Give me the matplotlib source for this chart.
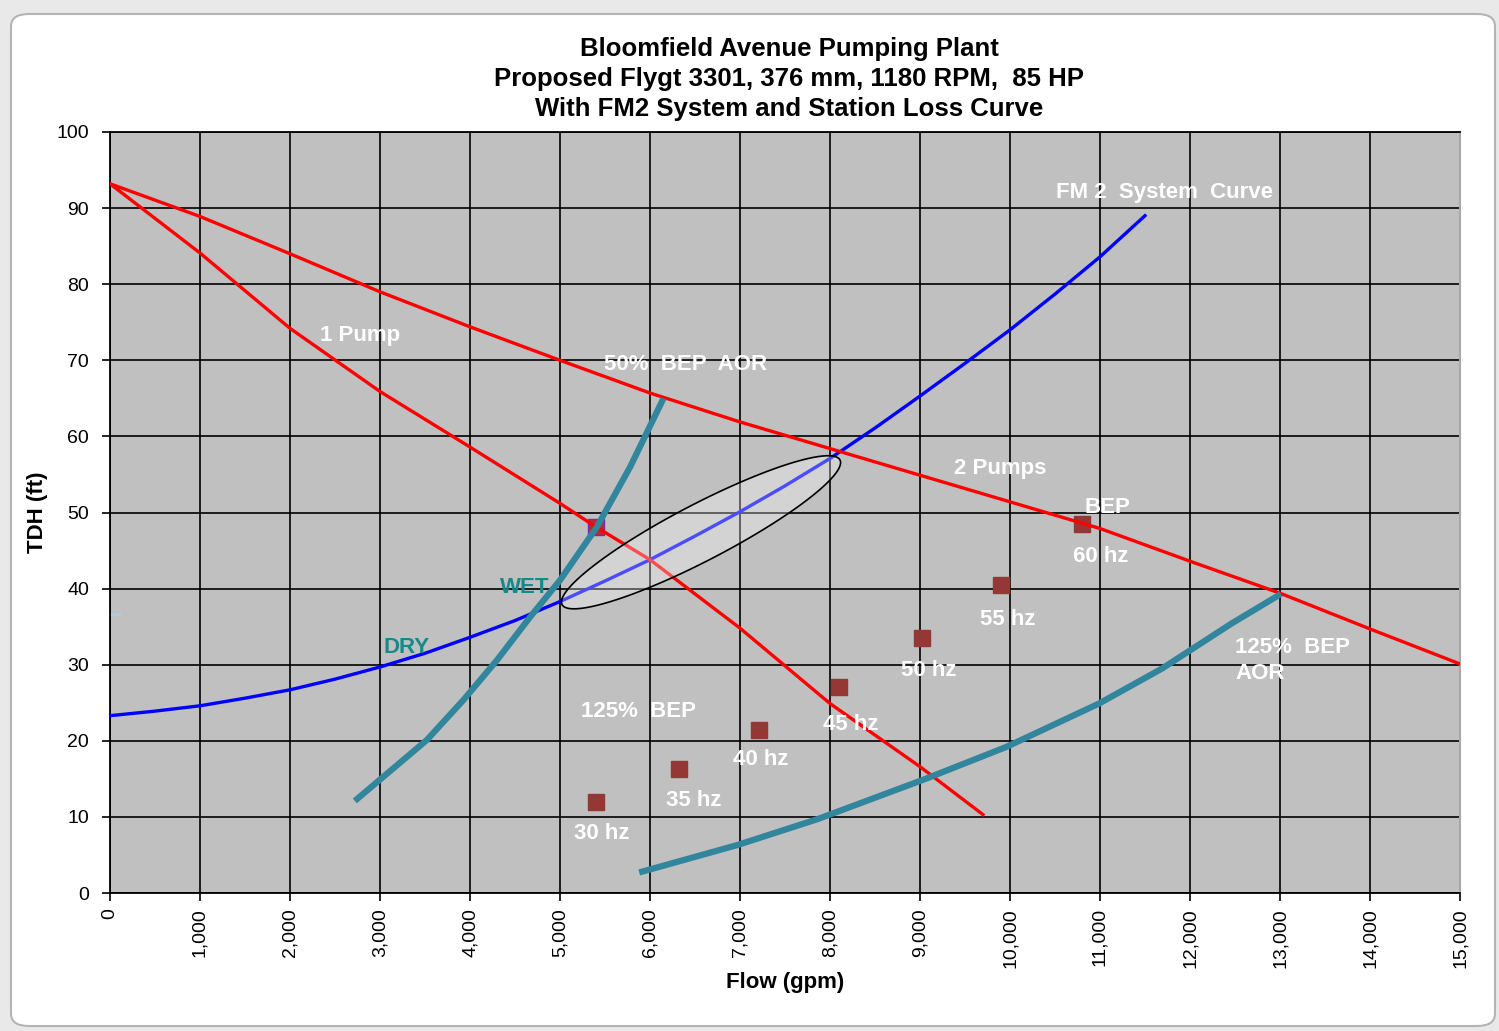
import numpy as np
import matplotlib
matplotlib.use('Agg')
import matplotlib.pyplot as plt
from matplotlib.patches import FancyBboxPatch, Polygon

plt.rcParams['font.family'] = ['Liberation Sans', 'DejaVu Sans']

# ---- data (flow in gpm, head in ft) ----
one_pump_q = [0, 1000, 2000, 3000, 4000, 5000, 5400, 6000, 7000, 8000, 9000, 9700]
one_pump_h = [93.2, 84.1, 74.2, 65.9, 58.6, 51.2, 48.1, 43.8, 34.8, 24.9, 16.6, 10.3]

two_pump_q = [0, 1000, 2000, 3000, 4000, 5000, 6000, 7000, 8000, 9000, 10000, 11000, 12000, 13000, 14000, 15000]
two_pump_h = [93.2, 88.9, 84.0, 79.0, 74.4, 70.0, 65.7, 61.9, 58.4, 54.9, 51.4, 47.9, 43.6, 39.4, 34.7, 30.1]

system_q = [0, 500, 1000, 1500, 2000, 2500, 3000, 3500, 4000, 4500, 5000, 5500,
            6000, 6500, 7000, 7500, 8000, 8500, 9000, 9500, 10000, 10500, 11000, 11500]
system_h = [23.3, 23.9, 24.6, 25.6, 26.7, 28.1, 29.7, 31.5, 33.6, 35.8, 38.3, 41.0,
            43.8, 46.9, 50.1, 53.5, 57.1, 61.1, 65.3, 69.6, 74.0, 78.7, 83.6, 89.0]

aor50_q = [2720, 3520, 3930, 4300, 4670, 5000, 5410, 5780, 6150]
aor50_h = [12.1, 20.1, 25.4, 30.6, 36.3, 41.1, 48.1, 56.0, 65.0]

aor125_q = [5880, 6970, 7860, 9040, 9960, 10990, 11690, 12460, 13010]
aor125_h = [2.7, 6.3, 9.7, 14.9, 19.2, 24.9, 29.5, 35.4, 39.3]

vfd_q = [5400, 6320, 7210, 8100, 9020, 9900, 10800]
vfd_h = [12.0, 16.3, 21.4, 27.1, 33.5, 40.5, 48.5]
vfd_labels = ['30 hz', '35 hz', '40 hz', '45 hz', '50 hz', '55 hz', '60 hz']

bep_q = [5400]
bep_h = [48.1]

# operating zone ellipse: centre, half major axis, half minor axis (data units)
zone_centre = (6567, 47.4)
zone_major = (1544, 9.5)
zone_minor = (-143, 3.3)

title_lines = ['Bloomfield Avenue Pumping Plant',
               'Proposed Flygt 3301, 376 mm, 1180 RPM,  85 HP',
               'With FM2 System and Station Loss Curve']

x_ticks = list(range(0, 15001, 1000))
y_ticks = list(range(0, 101, 10))

red = '#FF0000'
blue = '#0000FF'
teal = '#31859C'
wet_dry = '#148A8A'
marker_col = '#953735'

fig = plt.figure(figsize=(14.99, 10.31), dpi=100, facecolor='#E9E9E9')

# chart frame like the spreadsheet chart object
frame = FancyBboxPatch((11 / 1499, 5 / 1031), 1484 / 1499, 1012 / 1031,
                       boxstyle='round,pad=0,rounding_size=0.012',
                       transform=fig.transFigure, facecolor='white',
                       edgecolor='#B4B4B4', linewidth=1.5, zorder=-10)
fig.add_artist(frame)

ax = fig.add_axes([110 / 1499, 1 - 893 / 1031, 1350 / 1499, 761 / 1031])
ax.set_facecolor('#C0C0C0')
ax.set_xlim(0, 15000)
ax.set_ylim(0, 100)
ax.set_xticks(x_ticks)
ax.set_xticklabels(['{:,}'.format(v) for v in x_ticks], rotation=90, fontsize=14)
ax.set_yticks(y_ticks)
ax.set_yticklabels([str(v) for v in y_ticks], fontsize=14)
ax.tick_params(direction='out', length=6, width=1.2, color='black', pad=5)
ax.tick_params(axis='y', pad=9)
ax.grid(True, color='black', linewidth=1.2)
ax.set_axisbelow(True)
for s in ['left', 'bottom', 'top']:
    ax.spines[s].set_color('black')
    ax.spines[s].set_linewidth(1.3)
ax.spines['right'].set_color('#A8A8A8')
ax.spines['right'].set_linewidth(1.5)

#----curves----
ax.plot(vfd_q, vfd_h, 's', color=marker_col, markersize=11, zorder=2)
ax.plot(bep_q, bep_h, 's', color='#C0282F', markeredgecolor='#7030A0', markersize=11, zorder=2)
ax.plot([0], [36.7], '_', color='#A6CFE0', markersize=16, markeredgewidth=2, zorder=2)
ax.plot(system_q, system_h, color=blue, linewidth=2.4, zorder=3)
ax.plot(one_pump_q, one_pump_h, color=red, linewidth=2.4, zorder=4)
ax.plot(two_pump_q, two_pump_h, color=red, linewidth=2.4, zorder=4)
ax.plot(aor50_q, aor50_h, color=teal, linewidth=4.5, solid_capstyle='butt', zorder=5)
ax.plot(aor125_q, aor125_h, color=teal, linewidth=4.5, solid_capstyle='butt', zorder=5)

t = np.linspace(0, 2 * np.pi, 200)
ex = zone_centre[0] + zone_major[0] * np.cos(t) + zone_minor[0] * np.sin(t)
ey = zone_centre[1] + zone_major[1] * np.cos(t) + zone_minor[1] * np.sin(t)
ax.add_patch(Polygon(np.column_stack([ex, ey]), closed=True, facecolor=(1, 1, 1, 0.3),
                     edgecolor='black', linewidth=1.2, zorder=6))

#----labels----
lab = dict(color='white', fontsize=16, fontweight='bold', ha='center', va='center', zorder=7)
ax.text(2780, 73.2, '1 Pump', **lab)
ax.text(6390, 69.5, '50%  BEP  AOR', **lab)
ax.text(9890, 55.8, '2 Pumps', **lab)
ax.text(11720, 92.0, 'FM 2  System  Curve', **lab)
ax.text(11080, 50.7, 'BEP', **lab)
lab_pos = [(5460, 7.8), (6480, 12.1), (7230, 17.6), (8230, 22.2), (9100, 29.2), (9970, 36.0), (11010, 44.2)]
for (lx, ly), s in zip(lab_pos, vfd_labels):
    ax.text(lx, ly, s, **lab)
ax.text(5870, 23.8, '125%  BEP', **lab)
ax.text(12500, 30.6, '125%  BEP\nAOR', color='white', fontsize=16, fontweight='bold',
        ha='left', va='center', linespacing=1.3, zorder=7)
ax.text(4610, 40.1, 'WET', color=wet_dry, fontsize=16, fontweight='bold', ha='center', va='center', zorder=4)
ax.text(3300, 32.2, 'DRY', color=wet_dry, fontsize=16, fontweight='bold', ha='center', va='center', zorder=4)

ax.set_xlabel('Flow (gpm)', fontsize=16, fontweight='bold', labelpad=3)
ax.set_ylabel('TDH (ft)', fontsize=16, fontweight='bold', labelpad=6)

for i, line in enumerate(title_lines):
    fig.text(789 / 1499, 1 - (49 + 30 * i) / 1031, line, ha='center', va='center',
             fontsize=18.5, fontweight='bold')

fig.savefig('out.png', dpi=100, facecolor=fig.get_facecolor())
